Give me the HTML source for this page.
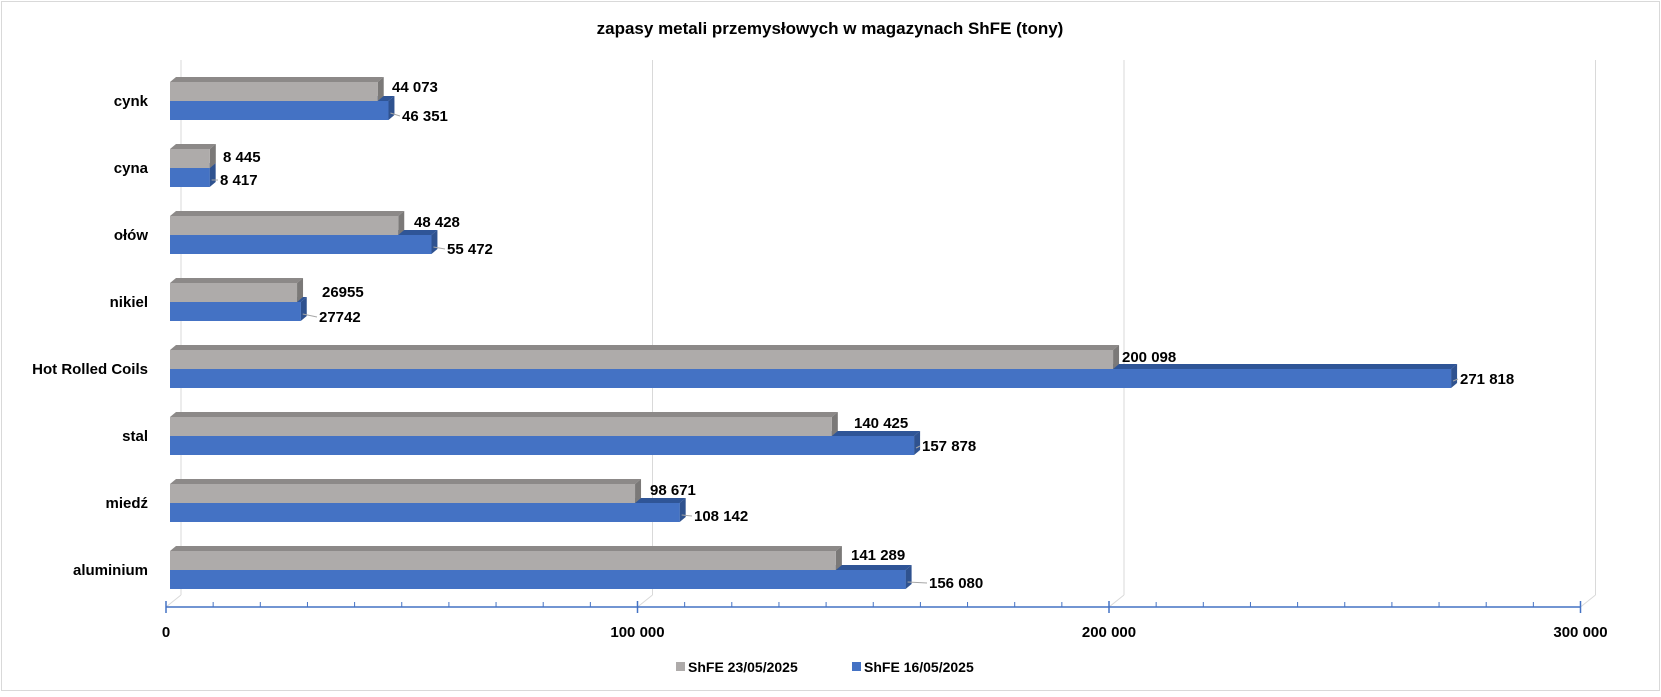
<!DOCTYPE html>
<html><head><meta charset="utf-8"><style>
html,body{margin:0;padding:0;background:#fff}
svg text{font-family:"Liberation Sans",Arial,sans-serif;font-weight:bold;fill:#000}
</style></head><body>
<svg id="c" width="1661" height="692" xmlns="http://www.w3.org/2000/svg"></svg>
<script>
var s='';
s+='<rect x="1.5" y="1.5" width="1658" height="689" fill="#fff" stroke="#d9d9d9"/>';
s+='<text x="830" y="34" font-size="17" text-anchor="middle">zapasy metali przemysłowych w magazynach ShFE (tony)</text>';
var K=0.004713, X0=170;
// gridlines back wall
[0,1,2,3].forEach(function(i){var xb=181+i*471.5, xf=166+i*471.5;
 s+='<line x1="'+xb+'" y1="60" x2="'+xb+'" y2="595" stroke="#d9d9d9"/>';
 s+='<line x1="'+xf+'" y1="607" x2="'+xb+'" y2="595" stroke="#d9d9d9"/>';});
var rows=[["cynk",44073,46351,"44 073","46 351",392,87,402,116],
["cyna",8445,8417,"8 445","8 417",223,157,220,180],
["ołów",48428,55472,"48 428","55 472",414,222,447,249],
["nikiel",26955,27742,"26955","27742",322,292,319,317],
["Hot Rolled Coils",200098,271818,"200 098","271 818",1122,357,1460,379],
["stal",140425,157878,"140 425","157 878",854,423,922,446],
["miedź",98671,108142,"98 671","108 142",650,490,694,516],
["aluminium",141289,156080,"141 289","156 080",851,555,929,583]];
var dx=6,dy=-5;
function box(x,y,w,h,f,t,sd){
 var r='';
 r+='<polygon points="'+x+','+y+' '+(x+dx)+','+(y+dy)+' '+(x+w+dx)+','+(y+dy)+' '+(x+w)+','+y+'" fill="'+t+'"/>';
 r+='<polygon points="'+(x+w)+','+y+' '+(x+w+dx)+','+(y+dy)+' '+(x+w+dx)+','+(y+h+dy)+' '+(x+w)+','+(y+h)+'" fill="'+sd+'"/>';
 r+='<rect x="'+x+'" y="'+y+'" width="'+w+'" height="'+h+'" fill="'+f+'"/>';
 return r;}
rows.forEach(function(r,i){
 var gy=82+67*i, by=gy+19;
 var gw=r[1]*K, bw=r[2]*K;
 s+=box(X0,by,bw,19,"#4472C4","#2F5597","#2F528F");
 s+=box(X0,gy,gw,19,"#AEABAA","#8C8988","#7B7978");
 s+='<rect x="'+X0+'" y="'+by+'" width="'+bw+'" height="19" fill="#4472C4"/>';
 s+='<text x="148" y="'+(gy+24)+'" font-size="15" text-anchor="end">'+r[0]+'</text>';
 s+='<text x="'+r[5]+'" y="'+(r[6]+5)+'" font-size="15">'+r[3]+'</text>';
 s+='<text x="'+r[7]+'" y="'+(r[8]+5)+'" font-size="15">'+r[4]+'</text>';
 s+='<line x1="'+(X0+bw+2)+'" y1="'+(by+12)+'" x2="'+(r[7]-2)+'" y2="'+(r[8])+'" stroke="#a6a6a6"/>';
});
// axis
s+='<line x1="166" y1="607" x2="1580" y2="607" stroke="#4472C4" stroke-width="1.5"/>';
for(var k=0;k<=30;k++){var x=166+k*47.15;
 if(k%10==0) s+='<line x1="'+x+'" y1="601" x2="'+x+'" y2="613" stroke="#4472C4" stroke-width="1.5"/>';
 else s+='<line x1="'+x+'" y1="602" x2="'+x+'" y2="607" stroke="#4472C4"/>';}
["0","100 000","200 000","300 000"].forEach(function(t,i){
 s+='<text x="'+(166+i*471.5)+'" y="637" font-size="15" text-anchor="middle">'+t+'</text>';});
// legend
s+='<rect x="676" y="662" width="9" height="9" fill="#AEABAA"/>';
s+='<text x="688" y="672" font-size="14">ShFE 23/05/2025</text>';
s+='<rect x="852" y="662" width="9" height="9" fill="#4472C4"/>';
s+='<text x="864" y="672" font-size="14">ShFE 16/05/2025</text>';
document.getElementById('c').innerHTML=s;
</script>
</body></html>
